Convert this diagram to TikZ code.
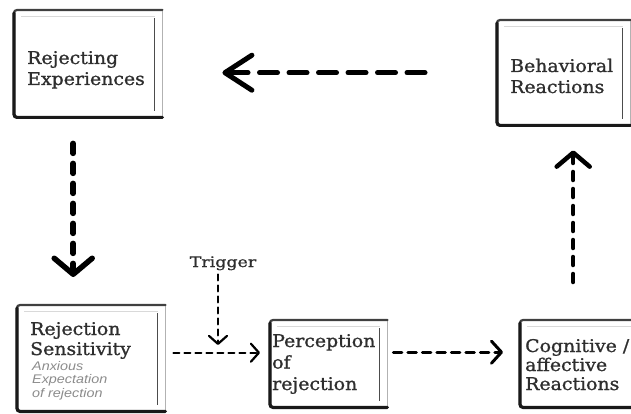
\documentclass[tikz,border=0pt]{standalone}
\usepackage{fontspec}
\setmainfont{DejaVu Serif}[FakeStretch=1.08, FakeBold=1.1]
\newfontfamily\triggerfont{DejaVu Serif}[FakeStretch=1.2, FakeBold=0.9]
\newfontfamily\notefont{Liberation Sans}[FakeStretch=1.15]
\usetikzlibrary{arrows.meta,calc}

\tikzset{
  card/.style={draw=none, inner sep=0pt, anchor=north west},
  % multi-line labels are placed by the baseline of their last line
  label/.style={inner sep=0pt, anchor=base west, align=left, text=black!82,
    font=\fontsize{17.5}{21}\selectfont},
  note/.style={inner sep=0pt, anchor=base west, align=left, text=black!45,
    font=\notefont\itshape\fontsize{12.5}{13.5}\selectfont},
  thickflow/.style={line width=5.5pt, line cap=round, dash pattern=on 10pt off 10pt,
    -{Straight Barb[round,length=16pt,width=38pt]}},
  wideflow/.style={line width=5pt, line cap=round, dash pattern=on 18pt off 11.5pt,
    -{Straight Barb[round,length=27pt,width=35pt]}},
  slimflow/.style={line width=4.5pt, line cap=round, dash pattern=on 8pt off 9pt,
    -{Straight Barb[round,length=14pt,width=33pt]}},
  thinflow/.style={line width=2.2pt, line cap=round, dash pattern=on 6pt off 5pt,
    -{Straight Barb[round,length=8pt,width=18pt]}},
  midflow/.style={line width=3pt, line cap=round, dash pattern=on 8.5pt off 6pt,
    -{Straight Barb[round,length=10pt,width=22pt]}},
}

\begin{document}
\begin{tikzpicture}[x=1pt,y=-1pt]
\useasboundingbox (0,0) rectangle (631,414);
\clip (0,0) rectangle (631,414);
\fill[white] (0,0) rectangle (631,414);

% boxes
\node[card, minimum width=148pt, minimum height=107pt] (rej) at (14,10) {};
\node[card, minimum width=133pt, minimum height=105pt] (beh) at (497,20) {};
\node[card, minimum width=148pt, minimum height=106pt] (rs)  at (17,305) {};
\node[card, minimum width=117pt, minimum height=87pt]  (per) at (270,320) {};
\node[card, minimum width=120pt, minimum height=87pt]  (cog) at (520,320) {};

% box outlines: heavy left and bottom edge, lighter top, thin right, inner rule
\foreach \n in {rej,beh,rs,per,cog}{
  \draw[black!30, line width=1pt] (\n.north east) -- (\n.south east);
  \draw[black!15, line width=0.8pt] ([xshift=7pt,yshift=-6pt]\n.north west) -- ([xshift=-7pt,yshift=-6pt]\n.north east);
  \draw[black!70, line width=1.8pt] ([xshift=-8pt,yshift=-8pt]\n.north east) -- ([xshift=-8pt,yshift=6pt]\n.south east);
  \draw[black!75, line width=2.2pt, rounded corners=3pt, line cap=round]
    (\n.north east) -- (\n.north west) -- (\n.south west) -- (\n.south east);
  \draw[black!90, line width=3.2pt, rounded corners=3pt, line cap=round]
    ([yshift=-3pt]\n.north west) -- (\n.south west) -- (\n.south east);
}

% texts
\node[label] (trej) at (27,85) {Rejecting\\Experiences};
\node[label] (tbeh) at (510,93) {Behavioral\\Reactions};
\node[label, font=\fontsize{17.5}{20}\selectfont] (trs) at (30,355) {Rejection\\Sensitivity};
\node[note]  (nrs)  at (32,397) {Anxious\\Expectation\\of rejection};
\node[label, font=\fontsize{17.5}{21.5}\selectfont] (tper) at (272,390) {Perception\\of\\rejection};
\node[label, font=\fontsize{17.5}{19}\selectfont] (tcog) at (525,390) {Cognitive /\\affective\\Reactions};
\node[label, font=\triggerfont\fontsize{14.5}{15}\selectfont, anchor=base] (trig) at (223,267) {Trigger};
\coordinate (trigend) at (218,345);

% connectors
\draw[wideflow, shorten <=72pt, shorten >=60pt] (beh.west) -- (beh.west -| rej.east);
\draw[thickflow, shorten <=26pt, shorten >=28pt]
  ([xshift=-15pt]rej.south) -- ([xshift=-15pt]rej.south |- rs.north);
\draw[slimflow, shorten <=38pt, shorten >=25pt]
  ([xshift=9.5pt]beh.south |- cog.north) -- ([xshift=9.5pt]beh.south);
\draw[thinflow, shorten <=4pt] ([xshift=-5pt]trig.south) -- (trigend);
\draw[thinflow, shorten <=8pt, shorten >=10pt]
  ([yshift=5.5pt]rs.east) -- ([yshift=5.5pt]rs.east -| per.west);
\draw[midflow, shorten <=6pt, shorten >=17pt]
  ([yshift=11.5pt]per.east) -- ([yshift=11.5pt]per.east -| cog.west);
\end{tikzpicture}
\end{document}
